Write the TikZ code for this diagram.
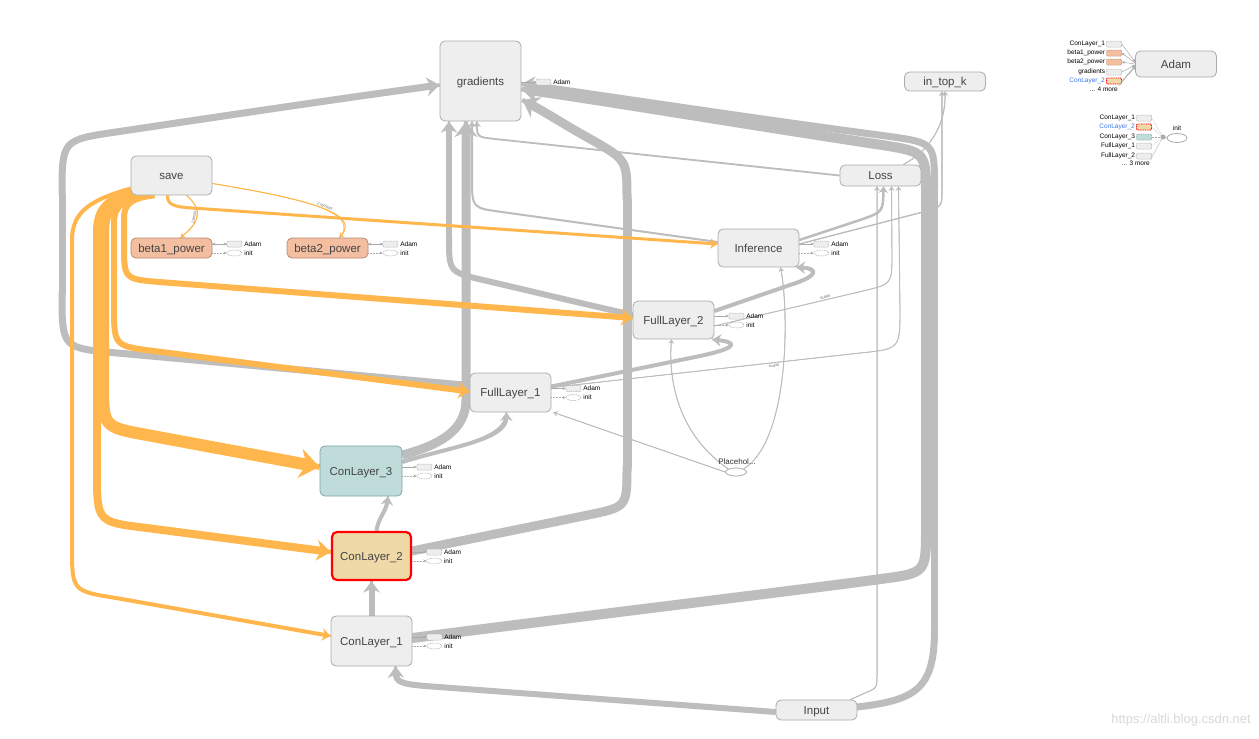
\documentclass[tikz,border=0pt]{standalone}
\usepackage{fontspec}
\setmainfont{Liberation Sans}
\usetikzlibrary{arrows.meta,calc,shapes.geometric}
\definecolor{eg}{HTML}{BDBDBD}
\definecolor{eo}{HTML}{FFB74D}
\definecolor{nfill}{HTML}{EEEEEE}
\definecolor{nbord}{HTML}{ABABAB}
\definecolor{ntext}{HTML}{444444}
\definecolor{salf}{HTML}{F4BEA0}
\definecolor{salb}{HTML}{B58A73}
\definecolor{tealf}{HTML}{BFDCDB}
\definecolor{tealb}{HTML}{7FA6A4}
\definecolor{wheatf}{HTML}{F0D9A8}
\definecolor{auxc}{HTML}{AAAAAA}
\definecolor{linkblue}{HTML}{3B78E7}
\definecolor{wm}{HTML}{D9D9D9}
\pgfdeclarelayer{back}
\pgfdeclarelayer{bg}
\pgfsetlayers{back,bg,main}
\tikzset{
  op/.style={draw=nbord, fill=nfill, rounded corners=5pt, line width=0.8pt, text=ntext,
    font=\fontsize{11.5}{13}\selectfont, inner sep=0pt, text height=8.3pt, text depth=0pt,
    minimum width=81pt, minimum height=39pt},
  solidify/.style={preaction={draw=#1, line width=0.7*\pgflinewidth, arrows=-},
    preaction={draw=#1, line width=0.4*\pgflinewidth, arrows=-},
    preaction={draw=#1, line width=0.15*\pgflinewidth, arrows=-}},
  gedge/.style={draw=eg, line width=#1, line cap=butt, line join=round, solidify=eg,
    -{Stealth[length=3pt 1.4, width=4pt 2.1, inset=1pt 0.45]}},
  gband/.style={draw=eg, line width=#1, line cap=round, line join=round, solidify=eg},
  oedge/.style={draw=eo, line width=#1, line cap=butt, line join=round, solidify=eo,
    -{Stealth[length=3pt 1.4, width=4pt 2.1, inset=1pt 0.45]}},
  abox/.style={rectangle, draw=auxc, dash pattern=on 1pt off 0.7pt, fill=nfill, line width=0.5pt,
    minimum width=15pt, minimum height=6pt, inner sep=0pt, rounded corners=1pt},
  aell/.style={ellipse, draw=auxc, dash pattern=on 1pt off 0.7pt, line width=0.5pt,
    minimum width=15pt, minimum height=6pt, inner sep=0pt},
  atxt/.style={font=\fontsize{6.5}{7}\selectfont, text=black, inner sep=0.5pt},
  aline/.style={draw=auxc, line width=0.5pt, -{Stealth[length=3pt, width=3pt]}},
  elabel/.style={font=\fontsize{4}{4}\selectfont, text=black!60, inner sep=1pt},
  ltxt/.style={font=\fontsize{6.5}{7}\selectfont, text=black, inner sep=1pt},
}
\newcommand\auxpair[1]{%
  \node[abox] (#1-a) at ($(#1.east)+(22,-4)$) {};
  \node[aell] (#1-i) at ($(#1.east)+(22,5)$) {};
  \node[atxt, anchor=west] at ($(#1-a.east)+(1.5,0)$) {Adam};
  \node[atxt, anchor=west] at ($(#1-i.east)+(1.5,0)$) {init};
  \draw[aline] ($(#1.east)+(0,-4)$) -- (#1-a);
  \draw[aline, densely dotted] ($(#1.east)+(0,5)$) -- (#1-i);
}
\begin{document}
\begin{tikzpicture}[x=1pt, y=-1pt]
\begin{pgfonlayer}{back}
\fill[white] (0,0) rectangle (1259,739);
\end{pgfonlayer}
\useasboundingbox (0,0) rectangle (1259,739);

% ---------------- nodes ----------------
\node[op, minimum height=80pt] (grad) at (480.5,81) {gradients};
\node[op, minimum height=19pt] (topk) at (945,81.5) {in\_top\_k};
\node[op, minimum height=26pt] (adam) at (1176,64) {Adam};
\node[op, minimum height=21pt] (loss) at (880.5,175.5) {Loss};
\node[op] (save) at (171.5,175.5) {save};
\node[op, fill=salf, draw=salb, minimum height=20pt] (b1) at (171.5,248) {beta1\_power};
\node[op, fill=salf, draw=salb, minimum height=20pt] (b2) at (327.5,248) {beta2\_power};
\node[op, minimum height=38pt] (inf) at (758.5,248) {Inference};
\node[op, minimum height=38pt] (fl2) at (673.5,320) {FullLayer\_2};
\node[op, minimum height=39pt] (fl1) at (510.5,392.5) {FullLayer\_1};
\node[op, fill=tealf, draw=tealb, minimum width=82pt, minimum height=50pt] (cl3) at (361,471) {ConLayer\_3};
\node[op, fill=wheatf, draw=red, line width=2.2pt, minimum width=79pt, minimum height=48pt] (cl2) at (371.5,556) {ConLayer\_2};
\node[op, minimum height=50pt] (cl1) at (371.5,641) {ConLayer\_1};
\node[op, minimum height=20pt] (input) at (816.5,710) {Input};
\node[ellipse, draw=nbord, line width=0.8pt, minimum width=21pt, minimum height=8pt, inner sep=0pt] (ph) at (736,472) {};
\node[font=\fontsize{8}{9}\selectfont, text=black!80, inner sep=0pt] (phl) at (737,462) {Placehol...};

% aux annotations
\node[abox] (grad-a) at ($(grad.east)+(22,1)$) {};
\node[atxt, anchor=west] at ($(grad-a.east)+(1.5,0)$) {Adam};
\draw[aline] ($(grad.east)+(0,1)$) -- (grad-a);
\auxpair{b1}
\auxpair{b2}
\draw[aline] (b1-a) -- ($(b1.east)+(0,-4)$);
\draw[aline] (b2-a) -- ($(b2.east)+(0,-4)$);
\auxpair{inf}
\auxpair{fl2}
\auxpair{fl1}
\auxpair{cl3}
\auxpair{cl2}
\auxpair{cl1}

% ---------------- legend (top right) ----------------
\node[abox] (la1) at (1114,44) {};
\node[abox, fill=salf, draw=salb] (la2) at (1114,53) {};
\node[abox, fill=salf, draw=salb] (la3) at (1114,62) {};
\node[abox] (la4) at (1114,72) {};
\node[abox, fill=wheatf, draw=red, line width=0.9pt] (la5) at (1114,81) {};
\node[ltxt, anchor=east] at (la1.west) {ConLayer\_1};
\node[ltxt, anchor=east] at (la2.west) {beta1\_power};
\node[ltxt, anchor=east] at (la3.west) {beta2\_power};
\node[ltxt, anchor=east] at (la4.west) {gradients};
\node[ltxt, anchor=east, text=linkblue] at (la5.west) {ConLayer\_2};
\node[ltxt, anchor=east] (lam) at (1119,89) {... 4 more};
\draw[aline] (la1.east) -- ($(adam.west)+(0,-2)$);
\draw[aline] ($(adam.west)+(0,-1)$) -- (la2.east);
\draw[aline] ($(adam.west)+(0,0)$) -- (la3.east);
\draw[aline] (la4.east) -- ($(adam.west)+(0,1)$);
\draw[aline] (la5.east) -- ($(adam.west)+(0,2)$);
\draw[aline] (lam.north east) -- ($(adam.west)+(0,3)$);

\node[ellipse, draw=nbord, line width=0.8pt, minimum width=20pt, minimum height=9pt, inner sep=0pt] (initE) at (1177,138) {};
\node[ltxt] at (1177,128) {init};
\coordinate (ij) at (1163,137);
\node[abox] (li1) at (1144,118) {};
\node[abox, fill=wheatf, draw=red, line width=0.9pt] (li2) at (1144,127) {};
\node[abox, fill=tealf, draw=tealb] (li3) at (1144,137) {};
\node[abox] (li4) at (1144,146) {};
\node[abox] (li5) at (1144,156) {};
\node[ltxt, anchor=east] at (li1.west) {ConLayer\_1};
\node[ltxt, anchor=east, text=linkblue] at (li2.west) {ConLayer\_2};
\node[ltxt, anchor=east] at (li3.west) {ConLayer\_3};
\node[ltxt, anchor=east] at (li4.west) {FullLayer\_1};
\node[ltxt, anchor=east] at (li5.west) {FullLayer\_2};
\node[ltxt, anchor=east] (lim) at (1151,163) {... 3 more};
\foreach \n in {li1,li2,li3,li4,li5} {\draw[draw=auxc, line width=0.5pt, densely dotted] (\n.east) -- (ij);}
\draw[draw=auxc, line width=0.5pt, densely dotted] (lim.north east) -- (ij);
\fill[auxc] (ij) circle (2.5pt);
\draw[draw=auxc, line width=0.8pt] (ij) -- (initE.west);

% watermark
\node[font=\fontsize{13}{14}\selectfont, text=wm, anchor=east, inner sep=0pt] (wmk) at (1251,720) {https://altli.blog.csdn.net};

% ---------------- edges ----------------
\begin{pgfonlayer}{bg}
% ConLayer_1 -> gradients
\coordinate (g1a) at ($(cl1.east)+(0,-3)$);
\draw[gband=10pt] (g1a) .. controls (600,614) and (800,590) .. (881,579) .. controls (926,573) .. (926,528);
\draw[gband=10pt] (926,528) -- (926,197);
\draw[gedge=10pt] (926,197) .. controls (926,152) .. (882,145) .. controls (750,125) and (600,100) .. ($(grad.east)+(0,8)$);
% Input -> gradients
\draw[gband=7pt] ($(input.east)+(0,-3)$) .. controls (915,700) and (934.5,690) .. (934.5,630);
\draw[gband=7pt] (934.5,630) -- (934.5,188);
\draw[gedge=7pt] (934.5,188) .. controls (934.5,143) .. (890,136.5) .. controls (750,118) and (600,95) .. ($(grad.east)+(0,3)$);
% ConLayer_2 -> gradients
\coordinate (g2a) at ($(cl2.east)+(0,-5)$);
\draw[gband=9pt] (g2a) .. controls (470,539) and (530,527) .. (588,515) .. controls (627,507) .. (627,467);
\draw[gband=9pt] (627,467) -- (627,200);
\draw[gedge=9pt] (627,200) .. controls (627,160) .. (592,140) .. controls (565,125) and (545,112) .. ($(grad.east)+(1,19)$);
% ConLayer_3 -> gradients
\draw[gedge=9pt] ($(cl3.east)+(0,-16)$) .. controls (440,445) and (466,430) .. (466,400) -- ($(grad.south)+(-14.5,0)$);
% FullLayer_2 -> gradients
\coordinate (g4a) at ($(fl2.west)+(0,-5)$);
\draw[gband=6pt] (g4a) .. controls (580,303) and (530,291) .. (483,280) .. controls (449,272) .. (449,237);
\draw[gedge=6pt] (449,237) .. controls (449,200) and (449,160) .. ($(grad.south)+(-31.5,0)$);
% FullLayer_1 -> gradients (left loop)
\coordinate (g5a) at ($(fl1.west)+(0,-7)$);
\draw[gband=7pt] (g5a) .. controls (350,375) and (230,363) .. (117,353) .. controls (62,348) .. (62,293);
\draw[gband=7pt] (62,293) -- (62,195);
\draw[gedge=7pt] (62,195) .. controls (62,140) .. (116,132) .. controls (230,115) and (330,100) .. ($(grad.west)+(0,4)$);
% thinner gray
\draw[gedge=2pt] ($(inf.west)+(0,-6)$) -- (502,212) .. controls (472,208) .. (472,178) -- ($(grad.south)+(-8.5,0)$);
\draw[gedge=1.8pt] (loss.west) -- (495,139) .. controls (477,137) .. ($(grad.south)+(-3.5,0)$);
\draw[gedge=6pt] ($(input.west)+(0,2)$) -- (425,686) .. controls (402,684) and (396,682) .. ($(cl1.south)+(24,0)$);
\draw[gedge=1pt] ($(input.north)+(34,0)$) -- (865,693) .. controls (877,688) .. (877,675) -- ($(loss.south)+(-3.5,0)$);
\draw[gedge=6pt] (cl1.north) -- (cl2.south);
\draw[gedge=4pt] ($(cl2.north)+(5,0)$) .. controls (378,518) and (386,512) .. ($(cl3.south)+(27,0)$);
\draw[gedge=4pt] ($(cl3.east)+(0,-9)$) .. controls (450,447) and (506,440) .. ($(fl1.south)+(-4,0)$);
\draw[gedge=4pt] ($(fl1.east)+(0,-6)$) -- (700,356) .. controls (742,347) and (735,342) .. ($(fl2.south east)+(-2,0)$);
\draw[gedge=4pt] ($(fl2.east)+(0,-9)$) -- (790,285) .. controls (822,275) and (816,268) .. ($(inf.south east)+(-3,0)$);
\draw[gedge=0.9pt] (ph.north east) .. controls (790,440) and (789,310) .. ($(inf.south)+(22,0)$);
\draw[gedge=0.9pt] (ph.north west) .. controls (672,430) and (669,370) .. ($(fl2.south)+(-2,0)$);
\draw[gedge=0.9pt] (ph.west) -- ($(fl1.south east)+(2,0)$);
\draw[gedge=2.5pt] ($(inf.east)+(0,-8)$) -- (860,220) .. controls (883,212) .. ($(loss.south)+(3,0)$);
\draw[gedge=1.3pt] ($(inf.east)+(0,-4)$) -- (923,212) .. controls (942,207) .. (942,190) -- ($(topk.south)+(-3,0)$);
\draw[gedge=1pt] ($(loss.north east)+(-18,0)$) .. controls (930,150) and (946,125) .. (topk.south);
\draw[gedge=0.9pt] ($(fl2.east)+(0,6)$) -- node[elabel, sloped, above, pos=0.75] {scalar} (863,291) .. controls (892,284) .. (892,255) -- ($(loss.south)+(11,0)$);
\draw[gedge=0.9pt] ($(fl1.east)+(0,-5)$) -- node[elabel, sloped, below, pos=0.72] {scalar} (860,353) .. controls (900,349) .. (900,309) -- ($(loss.south)+(18,0)$);
% orange
\draw[oedge=1pt] ($(save.south)+(15,0)$) .. controls (206,212) and (196,225) .. node[elabel, sloped, above, pos=0.45] {2 tensors} ($(b1.north)+(9,0)$);
\draw[oedge=1pt] ($(save.east)+(0,8)$) .. controls (300,198) and (362,212) .. node[elabel, sloped, above, pos=0.55] {2 tensors} ($(b2.north)+(12,0)$);
\draw[oedge=3pt] ($(save.south)+(-4,0)$) .. controls (167,205) and (175,207) .. (192,208) -- ($(inf.west)+(0,-4)$);
\draw[oedge=6pt] ($(save.south)+(-17,0)$) .. controls (130,198) and (124,205) .. (124,218) -- (124,244) .. controls (124,279) .. (159,282) -- ($(fl2.west)+(0,-2)$);
\draw[oedge=6pt] ($(save.south)+(-26,0)$) .. controls (125,198) and (114,206) .. (114,222) -- (114,306) .. controls (114,346) .. (154,351) -- ($(fl1.west)+(0,-1)$);
\draw[oedge=12pt] ($(save.south)+(-33,-1)$) .. controls (112,200) and (103,210) .. (103,232) -- (103,382) .. controls (103,427) .. (147,435) -- ($(cl3.west)+(0,-4)$);
\draw[oedge=8pt] ($(save.west)+(0,17)$) .. controls (106,200) and (97,210) .. (97,232) -- (97,472) .. controls (97,522) .. (147,528) -- ($(cl2.west)+(0,-4)$);
\draw[oedge=4pt] ($(save.west)+(0,13)$) .. controls (90,200) and (72,212) .. (72,240) -- (72,546) .. controls (72,591) .. (116,598) -- ($(cl1.west)+(0,-5)$);
\end{pgfonlayer}
\end{tikzpicture}
\end{document}
